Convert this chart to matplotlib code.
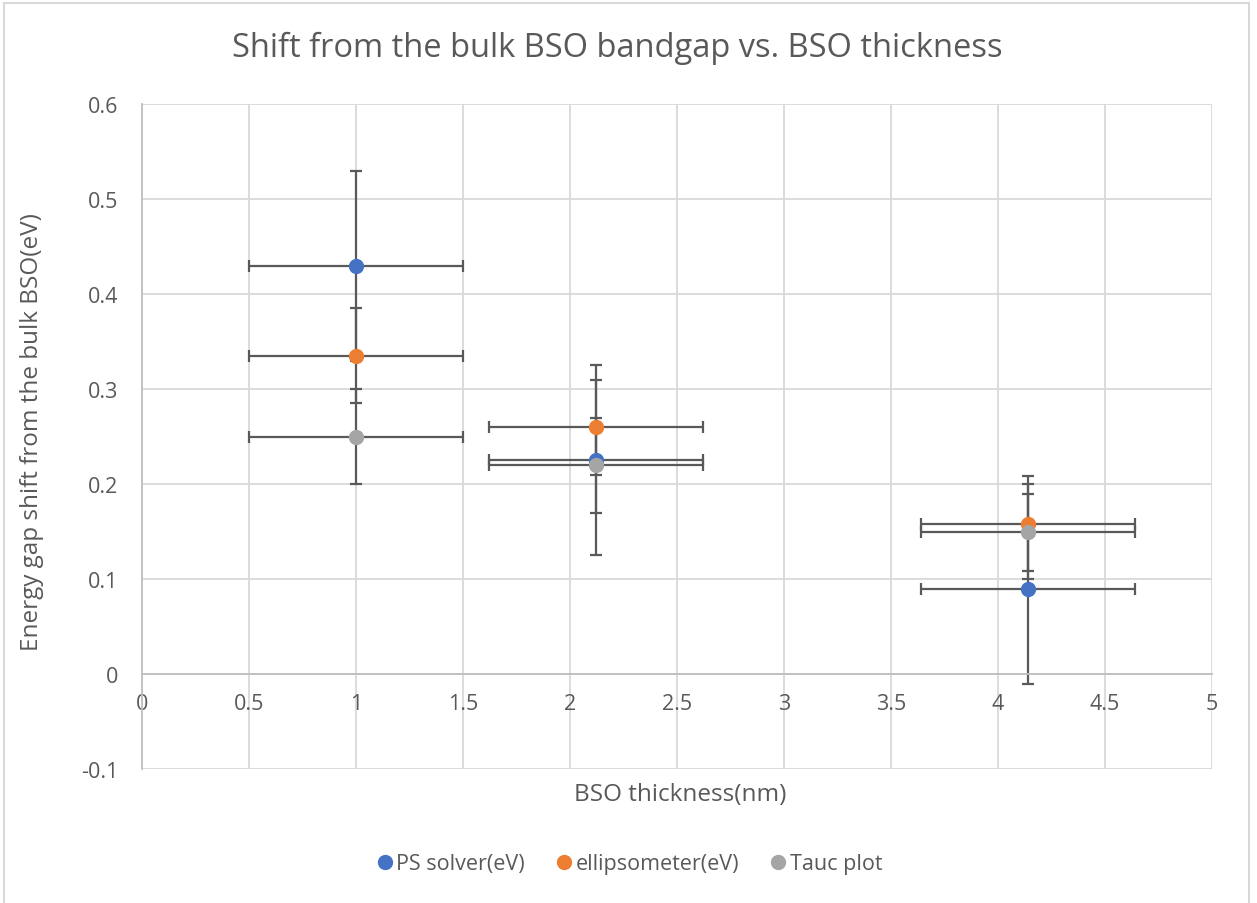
import matplotlib
matplotlib.use("Agg")
import matplotlib.pyplot as plt
from matplotlib.patches import Rectangle
from matplotlib.lines import Line2D

# ---- data ----
series_names = ["PS solver(eV)", "ellipsometer(eV)", "Tauc plot"]
thickness = [1.0, 2.12, 4.14]
ps_solver = [0.43, 0.225, 0.09]
ellipsometer = [0.335, 0.26, 0.158]
tauc_plot = [0.25, 0.22, 0.15]
ps_yerr = [0.1, 0.1, 0.1]
ell_yerr = [0.05, 0.05, 0.05]
tauc_yerr = [0.05, 0.05, 0.05]
x_err = [0.5, 0.5, 0.5]
x_ticks = [0, 0.5, 1, 1.5, 2, 2.5, 3, 3.5, 4, 4.5, 5]
y_ticks = [-0.1, 0, 0.1, 0.2, 0.3, 0.4, 0.5, 0.6]

colors = ["#4472C4", "#ED7D31", "#A5A5A5"]
txt = "#595959"
plt.rcParams['font.family'] = ['Open Sans', 'DejaVu Sans']

W, H = 1257, 904
fig = plt.figure(figsize=(W / 100, H / 100), dpi=100)
fig.patches.append(Rectangle((4 / W, -0.01), (1249 - 4) / W, (H - 4) / H + 0.01,
                             transform=fig.transFigure, fill=False,
                             edgecolor="#d9d9d9", linewidth=1.5))

ax = fig.add_axes([142 / W, (H - 770) / H, (1212 - 142) / W, (770 - 105) / H])
ax.set_xlim(0, 5)
ax.set_ylim(-0.1, 0.6)
ax.set_xticks(x_ticks)
ax.set_yticks(y_ticks)
ax.set_xticklabels([f"{v:g}" for v in x_ticks])
ax.set_yticklabels([f"{v:g}" for v in y_ticks])
ax.grid(True, color="#d9d9d9", linewidth=1.3)
ax.set_axisbelow(True)
for s in ["top", "right"]:
    ax.spines[s].set_visible(False)
ax.spines["bottom"].set_position(("data", 0))
ax.spines["bottom"].set_color("#bfbfbf")
ax.spines["left"].set_color("#bfbfbf")
ax.spines["bottom"].set_linewidth(1.3)
ax.spines["left"].set_linewidth(1.3)
ax.tick_params(axis="both", length=0, labelsize=15.5, labelcolor=txt)
ax.tick_params(axis="x", pad=14)
ax.tick_params(axis="y", pad=17)

data = [ps_solver, ellipsometer, tauc_plot]
yerrs = [ps_yerr, ell_yerr, tauc_yerr]
for name, vals, ye, c in zip(series_names, data, yerrs, colors):
    ax.errorbar(thickness, vals, yerr=ye, xerr=x_err, fmt="o", color=c,
                markersize=10, ecolor="#595959", elinewidth=1.6,
                capsize=4.5, capthick=1.6, label=name, clip_on=False)

fig.text(617 / W, 1 - 48 / H, "Shift from the bulk BSO bandgap vs. BSO thickness",
         ha="center", va="center", fontsize=23.5, color=txt)
fig.text(680 / W, 1 - 795 / H, "BSO thickness(nm)", ha="center", va="center",
         fontsize=17.5, color=txt)
fig.text(32 / W, 1 - 432 / H, "Energy gap shift from the bulk BSO(eV)",
         ha="center", va="center", rotation=90, fontsize=17.5, color=txt)

handles = [Line2D([], [], marker="o", linestyle="none", color=c, markersize=10)
           for c in colors]
fig.legend(handles, series_names, loc="center", bbox_to_anchor=(628 / W, 1 - 865 / H),
           ncol=3, frameon=False, fontsize=15.5, labelcolor=txt,
           handletextpad=0.05, columnspacing=1.3, handlelength=1.0)

fig.savefig("out.png", dpi=100)
